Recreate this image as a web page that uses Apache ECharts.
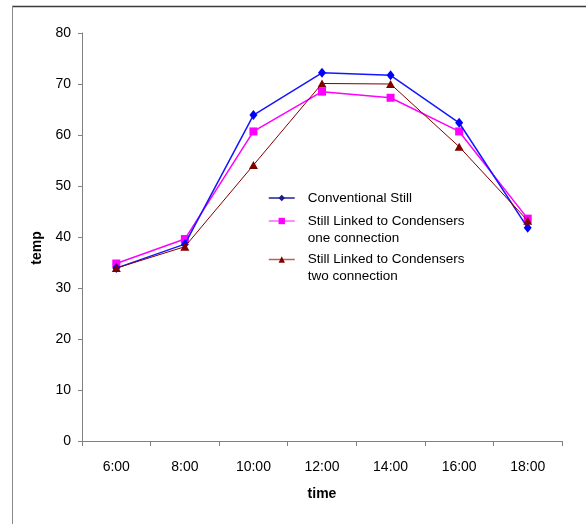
<!DOCTYPE html>
<html>
<head>
<meta charset="utf-8">
<title>Still temperature by time of day</title>
<script src="https://cdn.jsdelivr.net/npm/echarts@6/dist/echarts.min.js"></script>
<style>
  html, body { margin: 0; padding: 0; background: #fff; }
  #chart { width: 586px; height: 524px; }
</style>
</head>
<body>
<div id="chart"></div>
<script>
// Hours of measurement
var times = ['6:00', '8:00', '10:00', '12:00', '14:00', '16:00', '18:00'];

// Temperature readings for each still configuration
var conventionalStill = [33.9, 38.6, 63.9, 72.2, 71.7, 62.4, 41.8];
var oneConnection = [34.8, 39.6, 60.7, 68.5, 67.3, 60.7, 43.6];
var twoConnection = [33.9, 38.1, 54.1, 70.1, 70.0, 57.7, 43.2];

var yTicks = { min: 0, max: 80, interval: 10 };

var nameConv = 'Conventional Still';
var nameOne = 'Still Linked to Condensers\none connection';
var nameTwo = 'Still Linked to Condensers\ntwo connection';

var FONT = '"Liberation Sans", Arial, sans-serif';

var chart = echarts.init(document.getElementById('chart'), null, { renderer: 'canvas' });

// One legend block per series so each icon sits beside the first line of its label.
// A leading blank line pushes two-line labels down so line one is level with the icon.
function legendBlock(name, top, multiLine, lineColor, markColor) {
  return {
    orient: 'vertical',
    left: 268,
    top: top,
    padding: 0,
    itemWidth: 26,
    itemHeight: 8,
    selectedMode: false,
    data: [{
      name: name,
      lineStyle: { color: lineColor, width: 1.5 },
      itemStyle: { color: markColor }
    }],
    formatter: function (n) { return multiLine ? ' \n' + n : n; },
    textStyle: {
      fontFamily: FONT,
      fontSize: 13.5,
      color: '#000',
      lineHeight: 17,
      padding: [0, 0, 0, 8]
    }
  };
}

var option = {
  backgroundColor: '#fff',
  animation: false,
  grid: { left: 82, right: 24, top: 33, bottom: 83, containLabel: false },
  legend: [
    legendBlock(nameConv, 189.5, false, '#20209a', '#1a1a88'),
    legendBlock(nameOne, 195.5, true, '#ff66ff', '#ff00ff'),
    legendBlock(nameTwo, 234, true, '#b86060', '#800000')
  ],
  xAxis: {
    type: 'category',
    data: times,
    boundaryGap: true,
    name: 'time',
    nameLocation: 'middle',
    nameGap: 46,
    nameTextStyle: { fontFamily: FONT, fontSize: 14, fontWeight: 'bold', color: '#000' },
    axisLine: { lineStyle: { color: '#808080', width: 1 } },
    axisTick: { show: true, alignWithLabel: false, length: 5, lineStyle: { color: '#808080' } },
    axisLabel: { fontFamily: FONT, fontSize: 14, color: '#000', margin: 19 },
    splitLine: { show: false }
  },
  yAxis: {
    type: 'value',
    min: yTicks.min,
    max: yTicks.max,
    interval: yTicks.interval,
    name: 'temp',
    nameLocation: 'middle',
    nameGap: 37,
    nameRotate: 90,
    nameTextStyle: { fontFamily: FONT, fontSize: 14, fontWeight: 'bold', color: '#000', padding: [0, 22, 0, 0] },
    axisLine: { show: true, lineStyle: { color: '#808080', width: 1 } },
    axisTick: { show: true, length: 4, lineStyle: { color: '#808080' } },
    axisLabel: { fontFamily: FONT, fontSize: 14, color: '#000', margin: 11 },
    splitLine: { show: false }
  },
  series: [
    {
      name: nameConv,
      type: 'line',
      data: conventionalStill,
      symbol: 'diamond',
      symbolSize: [8, 10],
      lineStyle: { color: '#1515ff', width: 1.5 },
      itemStyle: { color: '#0000ff' },
      z: 3
    },
    {
      name: nameOne,
      type: 'line',
      data: oneConnection,
      symbol: 'rect',
      symbolSize: 8,
      lineStyle: { color: '#ff00ff', width: 1.5 },
      itemStyle: { color: '#ff00ff' },
      z: 2
    },
    {
      name: nameTwo,
      type: 'line',
      data: twoConnection,
      symbol: 'triangle',
      symbolSize: [9, 8],
      lineStyle: { color: '#800000', width: 1 },
      itemStyle: { color: '#800000' },
      z: 4
    }
  ],
  graphic: [
    {
      type: 'line',
      shape: { x1: 12, y1: 6.5, x2: 586, y2: 6.5 },
      style: { stroke: '#3a3a3a', lineWidth: 1.5 },
      silent: true
    },
    {
      type: 'line',
      shape: { x1: 12.5, y1: 6, x2: 12.5, y2: 524 },
      style: { stroke: '#888888', lineWidth: 1 },
      silent: true
    }
  ]
};

chart.setOption(option);
</script>
</body>
</html>
